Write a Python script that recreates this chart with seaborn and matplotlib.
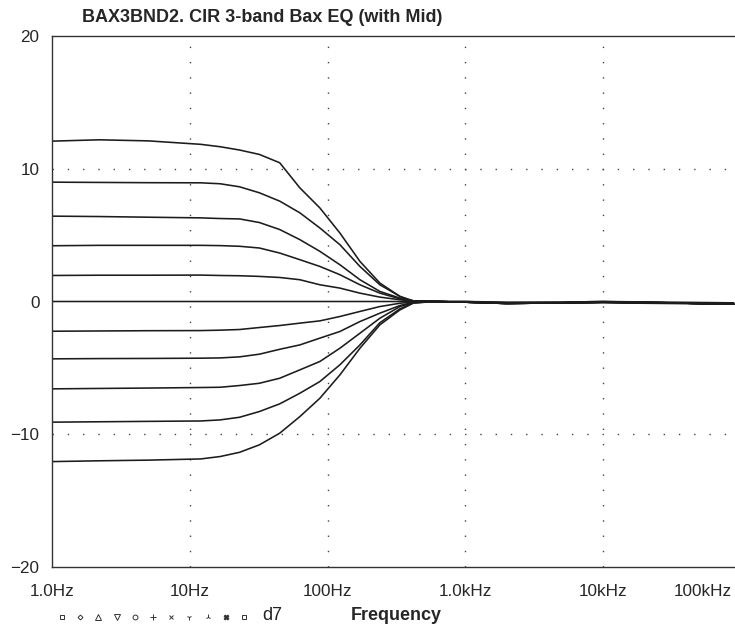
import numpy as np
import pandas as pd
import matplotlib
matplotlib.use("Agg")
import matplotlib.pyplot as plt
from matplotlib.lines import Line2D
import seaborn as sns

# ---- data ----
freqs = [1, 2.2, 5, 12, 16.6, 23, 32, 45, 63, 88, 123, 172, 240, 336, 420,
         600, 1000, 2000, 5000, 10000, 30000, 89000]

c_p12 = [12.08, 12.18, 12.1, 11.84, 11.66, 11.41, 11.08, 10.45, 8.56, 7.05, 5.16, 3.02, 1.39, 0.38, 0.0,
         0.0, -0.05, -0.1, -0.1, -0.1, -0.15, -0.2]
c_p9 = [8.99, 8.97, 8.95, 8.94, 8.87, 8.64, 8.19, 7.56, 6.68, 5.54, 4.28, 2.64, 1.26, 0.38, 0.05,
        0.0, -0.05, -0.15, -0.1, -0.05, -0.1, -0.2]
c_p6 = [6.43, 6.4, 6.35, 6.30, 6.25, 6.22, 5.95, 5.42, 4.66, 3.78, 2.77, 1.64, 0.76, 0.25, 0.05,
        0.0, -0.05, -0.15, -0.1, -0.05, -0.1, -0.2]
c_p4 = [4.2, 4.23, 4.23, 4.23, 4.21, 4.16, 4.03, 3.65, 3.15, 2.64, 2.02, 1.26, 0.63, 0.2, 0.05,
        0.0, -0.05, -0.1, -0.1, -0.05, -0.1, -0.2]
c_p2 = [1.96, 1.98, 1.98, 1.99, 1.96, 1.94, 1.89, 1.81, 1.64, 1.26, 1.01, 0.63, 0.33, 0.13, 0.03,
        0.0, 0.0, -0.1, -0.05, 0.0, -0.1, -0.2]
c_0 = [0.0, 0.0, 0.0, 0.0, 0.0, 0.0, 0.0, 0.0, 0.0, 0.0, 0.0, 0.0, 0.0, 0.0, 0.0,
       0.0, 0.0, -0.05, -0.05, 0.0, -0.05, -0.1]
c_m2 = [-2.24, -2.22, -2.2, -2.19, -2.16, -2.11, -1.96, -1.81, -1.63, -1.46, -1.13, -0.75, -0.38, -0.13, -0.03,
        0.0, -0.05, -0.1, -0.1, -0.05, -0.1, -0.2]
c_m4 = [-4.32, -4.3, -4.29, -4.27, -4.25, -4.17, -3.97, -3.6, -3.27, -2.76, -2.26, -1.51, -0.88, -0.3, -0.06,
        0.0, -0.05, -0.15, -0.1, -0.05, -0.1, -0.2]
c_m6 = [-6.58, -6.55, -6.52, -6.48, -6.46, -6.33, -6.16, -5.78, -5.15, -4.52, -3.52, -2.39, -1.26, -0.38, -0.08,
        0.0, -0.05, -0.15, -0.1, -0.05, -0.1, -0.2]
c_m9 = [-9.09, -9.06, -9.03, -9.0, -8.92, -8.72, -8.29, -7.71, -6.91, -6.03, -4.77, -3.27, -1.6, -0.55, -0.1,
        0.0, -0.05, -0.15, -0.1, -0.05, -0.1, -0.2]
c_m12 = [-12.06, -12.0, -11.95, -11.86, -11.68, -11.36, -10.8, -9.92, -8.67, -7.29, -5.53, -3.52, -1.76, -0.63, -0.12,
         0.0, -0.05, -0.15, -0.1, -0.05, -0.1, -0.2]

curves = [c_p12, c_p9, c_p6, c_p4, c_p2, c_0, c_m2, c_m4, c_m6, c_m9, c_m12]

x_ticks = [1, 10, 100, 1000, 10000]
x_ticklabels = ["1.0Hz", "10Hz", "100Hz", "1.0kHz", "10kHz"]
y_ticks = [20, 10, 0, -10, -20]
y_ticklabels = ["20", "10", "0", "\u221210", "\u221220"]

title = "BAX3BND2. CIR 3-band Bax EQ (with Mid)"
xlabel = "Frequency"

rows = []
for i, c in enumerate(curves):
    for f, v in zip(freqs, c):
        rows.append({"curve": i, "freq": f, "dB": v})
df = pd.DataFrame(rows)

# ---- figure ----
sns.set_style("white")
plt.rcParams["font.family"] = ["Liberation Sans", "DejaVu Sans"]

W, H = 735, 626
fig = plt.figure(figsize=(W / 100, H / 100), dpi=100)
left, right, top, bottom = 52, 735, 36, 567
ax = fig.add_axes([left / W, (H - bottom) / H, (right - left) / W, (bottom - top) / H])

sns.lineplot(data=df, x="freq", y="dB", units="curve", estimator=None,
             color="#1c1c1c", linewidth=1.15, ax=ax, legend=False)

ax.set_xscale("log")
decade_px = (603 - 52) / 4.0
ax.set_xlim(1, 10 ** ((right - left) / decade_px))
ax.set_ylim(-20, 20)

ax.set_xticks(x_ticks)
ax.set_xticklabels(x_ticklabels)
ax.xaxis.set_minor_locator(matplotlib.ticker.NullLocator())
ax.set_yticks(y_ticks)
ax.set_yticklabels(y_ticklabels)
ax.tick_params(axis="x", direction="in", length=4, width=0.8, labelsize=12.3, pad=12, color="#333333")
ax.tick_params(axis="y", direction="out", length=6, width=0.8, labelsize=12.3, pad=3, color="#333333")
ax.set_xlabel("")
ax.set_ylabel("")

# extra label at the right edge, aligned with the other tick labels
lbl_y = ax.xaxis.get_majorticklabels()[0]
ax.annotate("100kHz", xy=(1.0, 0.0), xycoords="axes fraction",
            xytext=(-2, -12 * 1.0 - 0), textcoords="offset points",
            ha="right", va="top", fontsize=12.3)

# dotted grids
dot = (0, (1, 10))
for xv in [10, 100, 1000, 10000]:
    ax.axvline(xv, color="#444444", linestyle=dot, linewidth=1.0, zorder=0)
for yv in [10, -10]:
    ax.axhline(yv, color="#444444", linestyle=dot, linewidth=1.0, zorder=0)

for s in ["left", "bottom", "top"]:
    ax.spines[s].set_visible(True)
    ax.spines[s].set_color("#333333")
    ax.spines[s].set_linewidth(1.0)
ax.spines["right"].set_visible(False)

fig.text(82 / W, 1 - 18 / H, title, fontsize=13, fontweight="bold", ha="left", va="center")
fig.text(396 / W, 1 - 616 / H, xlabel, fontsize=13, fontweight="bold", ha="center", va="center")

# marker row at bottom-left
markers = ["s", "D", "^", "v", "o", "+", "x", "1", "2", "X", "s"]
sizes = [3.5, 2.5, 4, 4, 3.5, 4, 3.5, 4, 4, 3.5, 3.5]
for k, (m, ms) in enumerate(zip(markers, sizes)):
    xp = (62 + 18.2 * k) / W
    yp = 1 - 617 / H
    fill = "#333333" if m in ("X",) else "none"
    fig.add_artist(Line2D([xp], [yp], marker=m, markersize=ms, markerfacecolor=fill,
                          markeredgecolor="#333333", markeredgewidth=0.7,
                          linestyle="none", transform=fig.transFigure))
fig.text(262 / W, 1 - 616 / H, "d7", fontsize=13, ha="left", va="center", color="#222222")

fig.savefig("out.png", dpi=100, facecolor="white")
